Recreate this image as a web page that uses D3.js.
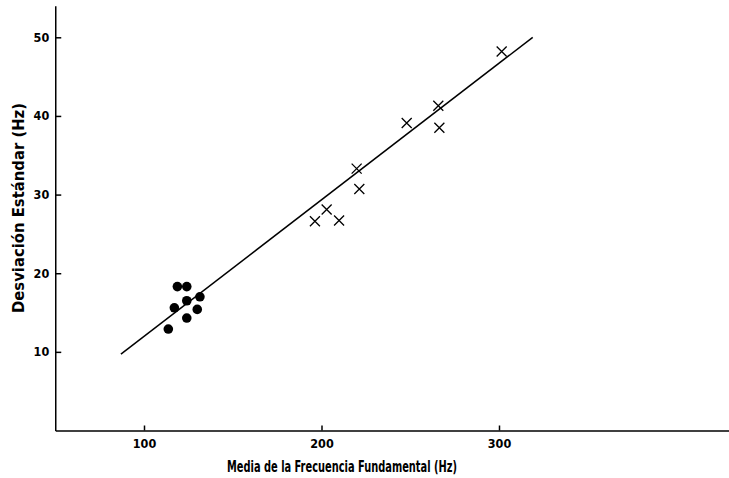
<!DOCTYPE html>
<html>
<head>
<meta charset="utf-8">
<script src="https://cdn.jsdelivr.net/npm/d3@7"></script>
<style>
  body { margin: 0; background: #fff; }
  svg { display: block; }
  .axis text { font-family: "DejaVu Sans Condensed", "DejaVu Sans", sans-serif; font-weight: bold; font-size: 12.5px; fill: #000; }
  .axis path, .axis line { stroke: #000; stroke-width: 1.5; }
  .title { font-family: "DejaVu Sans Condensed", "DejaVu Sans", sans-serif; font-weight: bold; font-size: 15px; fill: #000; }
</style>
</head>
<body>
<svg id="chart"></svg>
<script>
// hombres (puntos)
var maleX = [118.8, 124.1, 124.1, 131.5, 117.1, 130.0, 124.1, 113.7]
var maleY = [18.3, 18.3, 16.5, 17.0, 15.6, 15.4, 14.3, 12.9]

// mujeres (cruces)
var femaleX = [196.3, 202.9, 209.9, 219.8, 221.3, 248.0, 265.8, 266.4, 301.5]
var femaleY = [26.6, 28.1, 26.7, 33.3, 30.7, 39.1, 41.3, 38.5, 48.2]

// recta de regresion
var lineX = [87, 319]
var lineY = [9.7, 50.0]

var xTicks = [100, 200, 300]
var yTicks = [10, 20, 30, 40, 50]

var xTitle = "Media de la Frecuencia Fundamental (Hz)"
var yTitle = "Desviación Estándar (Hz)"

var dims = {
    width: 729,
    height: 478,
    margin: { top: 5, bottom: 47.5, left: 55.25, right: 0 }
}

var svg = d3.select("#chart")
            .attr("width", dims.width)
            .attr("height", dims.height)

var xScale = d3.scaleLinear()
               .domain([50, 430])
               .range([dims.margin.left, dims.margin.left + 380 * 1.775])

var yScale = d3.scaleLinear()
               .domain([0, 54])
               .range([dims.height - dims.margin.bottom, dims.height - dims.margin.bottom - 54 * 7.864])

var xAxisGen = d3.axisBottom(xScale)
                 .tickValues(xTicks)
                 .tickSizeInner(-5)
                 .tickSizeOuter(0)
                 .tickPadding(9)

var xAxis = svg.append("g")
               .attr("class", "axis")
               .attr("transform", `translate(0,${yScale(0)})`)
               .call(xAxisGen)

var yAxisGen = d3.axisLeft(yScale)
                 .tickValues(yTicks)
                 .tickSizeInner(-6)
                 .tickSizeOuter(0)
                 .tickPadding(6)

var yAxis = svg.append("g")
               .attr("class", "axis")
               .attr("transform", `translate(${xScale(50)},0)`)
               .call(yAxisGen)

var fit = svg.append("line")
             .attr("x1", xScale(lineX[0]))
             .attr("y1", yScale(lineY[0]))
             .attr("x2", xScale(lineX[1]))
             .attr("y2", yScale(lineY[1]))
             .attr("stroke", "#000")
             .attr("stroke-width", 1.5)

var dots = svg.append("g")
              .selectAll("circle")
              .data(d3.range(maleX.length))
              .enter()
              .append("circle")
              .attr("cx", i => xScale(maleX[i]))
              .attr("cy", i => yScale(maleY[i]))
              .attr("r", 4.8)
              .attr("fill", "#000")

var s = 5
var crosses = svg.append("g")
                 .selectAll("path")
                 .data(d3.range(femaleX.length))
                 .enter()
                 .append("path")
                 .attr("d", function(i) {
                     var cx = xScale(femaleX[i]), cy = yScale(femaleY[i])
                     return `M${cx-s},${cy-s}L${cx+s},${cy+s}M${cx-s},${cy+s}L${cx+s},${cy-s}`
                 })
                 .attr("stroke", "#000")
                 .attr("stroke-width", 1.3)
                 .attr("fill", "none")

var xLab = svg.append("text")
              .attr("class", "title")
              .attr("x", 342)
              .attr("y", 472)
              .attr("text-anchor", "middle")
              .attr("textLength", 230)
              .attr("lengthAdjust", "spacingAndGlyphs")
              .text(xTitle)

var yLab = svg.append("text")
              .attr("class", "title")
              .attr("transform", "rotate(-90)")
              .attr("x", -208)
              .attr("y", 24)
              .attr("text-anchor", "middle")
              .attr("textLength", 210)
              .attr("lengthAdjust", "spacingAndGlyphs")
              .text(yTitle)
</script>
</body>
</html>
